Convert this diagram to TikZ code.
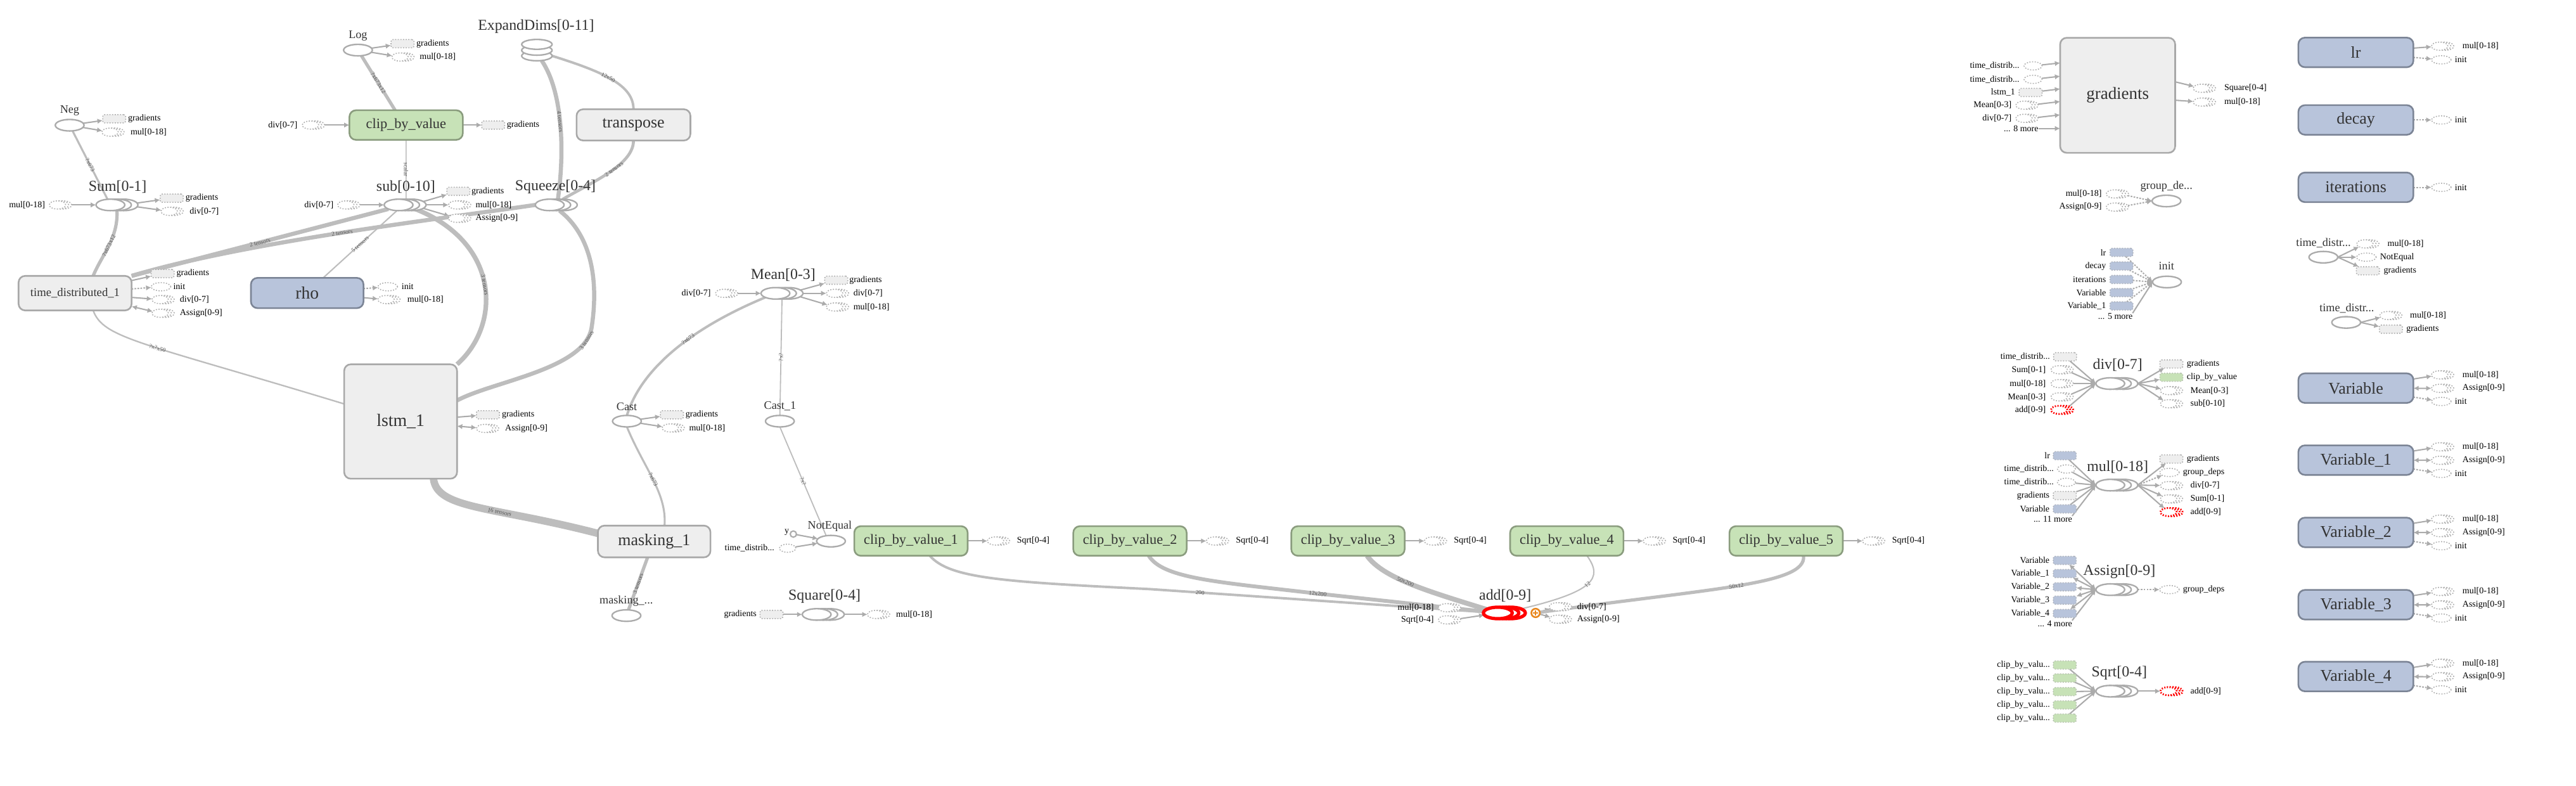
\documentclass[tikz,border=0pt]{standalone}
\usepackage{fontspec}
\setmainfont{Liberation Serif}
\usetikzlibrary{shapes.geometric,arrows.meta}
\definecolor{txtc}{HTML}{333333}
\definecolor{boxf}{HTML}{EEEEEE}
\definecolor{boxb}{HTML}{A8A8A8}
\definecolor{grnf}{HTML}{C7E2B7}
\definecolor{grnb}{HTML}{8A9C7E}
\definecolor{bluf}{HTML}{B8C4DB}
\definecolor{blub}{HTML}{7B8495}
\definecolor{edgec}{HTML}{BDBDBD}
\definecolor{arrc}{HTML}{ABABAB}
\definecolor{anc}{HTML}{B0B0B0}
\definecolor{opc}{HTML}{ABABAB}
\definecolor{redc}{HTML}{FF0000}
\definecolor{orgc}{HTML}{E8871E}
\definecolor{elc}{HTML}{555555}
\pgfdeclarelayer{bgw}
\pgfdeclarelayer{bg}
\pgfsetlayers{bgw,bg,main}
\tikzset{
 base/.style={inner sep=0pt,outer sep=0pt},
 box/.style={base,draw=boxb,fill=boxf,rounded corners=4pt,line width=1pt,minimum width=69pt,minimum height=18pt,text=txtc,font=\fontsize{10}{10}\selectfont},
 gbox/.style={box,draw=grnb,fill=grnf,font=\fontsize{8.6}{8.6}\selectfont},
 bbox/.style={box,draw=blub,fill=bluf},
 op/.style={base,ellipse,draw=opc,fill=white,line width=0.9pt,minimum width=17.5pt,minimum height=7pt},
 rop/.style={op,draw=redc,line width=2pt},
 aell/.style={base,ellipse,draw=anc,fill=white,line width=0.6pt,dash pattern=on 0.7pt off 0.9pt,minimum width=12pt,minimum height=5pt},
 raell/.style={aell,draw=redc,line width=1.1pt},
 arect/.style={base,rectangle,rounded corners=1.2pt,draw=anc,fill=boxf,line width=0.6pt,dash pattern=on 0.7pt off 0.9pt,minimum width=14pt,minimum height=5pt},
 brect/.style={arect,fill=bluf,draw=blub!60},
 grect/.style={arect,fill=grnf,draw=grnb!60},
 stxt/.style={base,text=black,font=\fontsize{5.4}{5.4}\selectfont},
 ltxt/.style={base,text=txtc,font=\fontsize{9.2}{9.2}\selectfont},
 mtxt/.style={base,text=txtc,font=\fontsize{7}{7}\selectfont},
 elab/.style={base,text=elc,font=\fontsize{3.6}{3.6}\selectfont,sloped},
 edg/.style={draw=edgec,line width=#1pt},
 edg/.default=1,
 arr/.style={draw=arrc,line width=0.8pt,-{Latex[length=3.2pt,width=3.2pt]}},
 darr/.style={arr,dash pattern=on 1pt off 0.8pt},
 barr/.style={draw=arrc,line width=0.8pt,{Latex[length=3.2pt,width=3.2pt]}-{Latex[length=3.2pt,width=3.2pt]}},
}
\newcommand\aser[4][aell]{%
 \node[#1,minimum width=10pt] (#2c) at ({#3+3.6},#4) {};
 \node[#1,minimum width=10pt] (#2b) at ({#3+1.8},#4) {};
 \node[#1,minimum width=10pt] (#2) at (#3,#4) {};}
\newcommand\series[4][op]{%
 \node[#1] (#2c) at ({#3+8},#4) {};
 \node[#1] (#2b) at ({#3+4},#4) {};
 \node[#1] (#2) at (#3,#4) {};}
\newcommand\txr[4]{\node[stxt,anchor=west] (#1) at (#2,#3) {#4};}
\newcommand\txl[4]{\node[stxt,anchor=east] (#1) at (#2,#3) {#4};}
\newcommand\varbox[3]{%
 \node[bbox,minimum width=70pt,minimum height=18pt] (#1) at (1434,#2) {#3};
 \aser{#1a}{1485}{#2-8.1}
 \txr{#1at}{1498.9}{#2-8.1}{mul[0-18]}
 \aser{#1b}{1485}{#2+0.1}
 \txr{#1bt}{1498.9}{#2+0.1}{Assign[0-9]}
 \node[aell] (#1i) at (1486,#2+8.1) {};
 \txr{#1it}{1494.3}{#2+8.1}{init}
 \begin{pgfonlayer}{bg}
 \draw[arr] (#1) -- (#1a);
 \draw[barr] (#1) -- (#1b);
 \draw[darr] (#1) -- (#1i);
 \end{pgfonlayer}}
\newcommand\cbvbox[3]{%
 \node[gbox] (#1) at (#2,329.2) {clip\_by\_value\_#3};
 \aser{#1o}{#2+51.5}{329.2}
 \txr{#1ot}{#2+64.5}{329.2}{Sqrt[0-4]}
 \begin{pgfonlayer}{bg}\draw[arr] (#1) -- (#1o);\end{pgfonlayer}}
\begin{document}
\begin{tikzpicture}[x=1pt,y=-1pt]
\begin{pgfonlayer}{bgw}
\fill[white] (0,0) rectangle (1568,478.3);
\end{pgfonlayer}
\path[use as bounding box] (0,0) rectangle (1568,478.3);

% ================= LEFT GRAPH =================
% Neg
\node[mtxt] (negL) at (42.4,67.5) {Neg};
\node[op] (neg) at (42.4,76.2) {};
\node[arect] (nego1) at (69.5,72.3) {};
\txr{nego1t}{78}{72.3}{gradients}
\aser{nego2}{67}{80.4}
\txr{nego2t}{79.5}{80.4}{mul[0-18]}
% Sum
\node[ltxt] (sumL) at (71.6,113.8) {Sum[0-1]};
\series{sum}{67.2}{124.7}
\txl{sumi1t}{27.4}{124.7}{mul[0-18]}
\aser{sumi1}{35}{124.7}
\node[arect] (sumo1) at (104.5,120.6) {};
\txr{sumo1t}{113}{120.6}{gradients}
\aser{sumo2}{103}{128.6}
\txr{sumo2t}{115.5}{128.6}{div[0-7]}
% time_distributed_1
\node[box,minimum width=68.8pt,minimum height=21pt,font=\fontsize{7.2}{7.2}\selectfont] (td1) at (45.7,178.4) {time\_distributed\_1};
\node[arect] (td1o1) at (99,166.5) {};
\txr{td1o1t}{107.5}{166.5}{gradients}
\node[aell] (td1o2) at (98,174.5) {};
\txr{td1o2t}{105.5}{174.5}{init}
\aser{td1o3}{97.5}{182.3}
\txr{td1o3t}{109.5}{182.3}{div[0-7]}
\aser{td1o4}{97.5}{190.6}
\txr{td1o4t}{109.5}{190.6}{Assign[0-9]}
% Log
\node[mtxt] (logL) at (217.9,21.9) {Log};
\node[op] (log) at (217.9,30.5) {};
\node[arect] (logo1) at (245,26.6) {};
\txr{logo1t}{253.5}{26.6}{gradients}
\aser{logo2}{243.5}{34.7}
\txr{logo2t}{255.5}{34.7}{mul[0-18]}
% clip_by_value
\node[gbox] (cbv) at (247.2,76.1) {clip\_by\_value};
\txl{cbvi1t}{181}{76.1}{div[0-7]}
\aser{cbvi1}{189}{76.1}
\node[arect] (cbvo1) at (300.2,76.1) {};
\txr{cbvo1t}{308.5}{76.1}{gradients}
% ExpandDims
\node[ltxt] (edL) at (326.3,16.1) {ExpandDims[0-11]};
\node[op,minimum width=18.5pt,minimum height=6pt] (ed3) at (326.8,34) {};
\node[op,minimum width=18.5pt,minimum height=6pt] (ed2) at (326.8,30.6) {};
\node[op,minimum width=18.5pt,minimum height=6pt] (ed) at (326.8,27) {};
% transpose
\node[box,minimum width=69.3pt,minimum height=19pt] (tr) at (385.6,76) {transpose};
% sub
\node[ltxt] (subL) at (247,113.8) {sub[0-10]};
\series{sub}{242.6}{124.7}
\txl{subi1t}{203}{124.7}{div[0-7]}
\aser{subi1}{210.5}{124.7}
\node[arect] (subo1) at (279,116.4) {};
\txr{subo1t}{287}{116.4}{gradients}
\aser{subo2}{278}{124.7}
\txr{subo2t}{289.5}{124.7}{mul[0-18]}
\aser{subo3}{278}{132.8}
\txr{subo3t}{289.5}{132.8}{Assign[0-9]}
% Squeeze
\node[ltxt] (sqL) at (338.1,113.8) {Squeeze[0-4]};
\series{sq}{334.6}{124.7}
% rho
\node[bbox,minimum width=68.5pt,minimum height=18.4pt,font=\fontsize{10.6}{10.6}\selectfont] (rho) at (187,178.3) {rho};
\node[aell] (rhoo1) at (236,174.5) {};
\txr{rhoo1t}{244.5}{174.5}{init}
\aser{rhoo2}{235}{182.3}
\txr{rhoo2t}{248}{182.3}{mul[0-18]}
% lstm_1
\node[box,minimum width=68.7pt,minimum height=69.6pt,font=\fontsize{10.7}{10.7}\selectfont] (lstm) at (243.85,256.5) {lstm\_1};
\node[arect] (lstmo1) at (297,252.4) {};
\txr{lstmo1t}{305.5}{252.4}{gradients}
\aser{lstmo2}{295}{260.7}
\txr{lstmo2t}{307.5}{260.7}{Assign[0-9]}
% masking_1
\node[box,minimum width=68.5pt,minimum height=19.3pt] (mask) at (398.2,329.5) {masking\_1};
\node[mtxt] (maskoL) at (381.2,365.7) {masking\_...};
\node[op] (masko) at (381.3,374.6) {};
% Mean
\node[ltxt] (meanL) at (476.7,167.3) {Mean[0-3]};
\series{mean}{472}{178.5}
\txl{meani1t}{432.6}{178.5}{div[0-7]}
\aser{meani1}{440.5}{178.5}
\node[arect] (meano1) at (509,170.5) {};
\txr{meano1t}{517}{170.5}{gradients}
\aser{meano2}{508}{178.5}
\txr{meano2t}{519.5}{178.5}{div[0-7]}
\aser{meano3}{508}{186.8}
\txr{meano3t}{519.5}{186.8}{mul[0-18]}
% Cast
\node[mtxt] (castL) at (381.5,247.5) {Cast};
\node[op] (cast) at (381.6,256.3) {};
\node[arect] (casto1) at (409,252.4) {};
\txr{casto1t}{417.3}{252.4}{gradients}
\aser{casto2}{408}{260.4}
\txr{casto2t}{419.5}{260.4}{mul[0-18]}
% Cast_1
\node[mtxt] (cast1L) at (474.8,247.1) {Cast\_1};
\node[op] (cast1) at (474.7,256.3) {};
% NotEqual
\node[mtxt] (neL) at (505.1,320.2) {NotEqual};
\node[op] (ne) at (505.8,329.3) {};
\node[base,circle,draw=opc,fill=white,line width=0.8pt,minimum size=3.8pt] (ney) at (482.9,325) {};
\txl{neyt}{480.3}{324}{y}
\txl{nei2t}{471.3}{333.6}{time\_distrib...}
\node[aell,minimum width=10pt] (nei2) at (479.4,333.6) {};
% clip_by_value_1..5
\cbvbox{cbva}{554.5}{1}
\cbvbox{cbvb}{687.8}{2}
\cbvbox{cbvc}{820.5}{3}
\cbvbox{cbvd}{953.7}{4}
\cbvbox{cbve}{1087.2}{5}
% Square
\node[ltxt] (sqrL) at (501.9,362.8) {Square[0-4]};
\series{sqr}{497.1}{373.9}
\node[arect] (sqri1) at (469.6,373.9) {};
\txl{sqri1t}{460.5}{373.9}{gradients}
\aser{sqro1}{533}{373.9}
\txr{sqro1t}{545.5}{373.9}{mul[0-18]}
% add
\node[ltxt] (addL) at (916.2,362.6) {add[0-9]};
\series[rop]{add}{911.7}{373}
\node[base,circle,draw=orgc,fill=white,line width=1pt,minimum size=5.2pt] (addx) at (934.7,373) {};
\draw[orgc,line width=0.8pt] ([xshift=-1.6pt]addx.center) -- ([xshift=1.6pt]addx.center) ([yshift=-1.6pt]addx.center) -- ([yshift=1.6pt]addx.center);
\txl{addi1t}{872.7}{369.8}{mul[0-18]}
\aser{addi1}{880.5}{369.8}
\txl{addi2t}{872.7}{377.2}{Sqrt[0-4]}
\aser{addi2}{880.5}{377.2}
\aser{addo1}{948}{369.2}
\txr{addo1t}{960}{369.2}{div[0-7]}
\aser{addo2}{948}{376.8}
\txr{addo2t}{960}{376.8}{Assign[0-9]}

% ---- left graph connectors ----
\begin{pgfonlayer}{bg}
\draw[arr] (neg) -- (nego1);
\draw[arr] (neg) -- (nego2);
\draw[arr] (sumi1c) -- (sum);
\draw[arr] (sumc) -- (sumo1);
\draw[arr] (sumc) -- (sumo2);
\draw[arr] (td1) -- (td1o1);
\draw[darr] (td1) -- (td1o2);
\draw[arr] (td1) -- (td1o3);
\draw[barr] (td1) -- (td1o4);
\draw[arr] (log) -- (logo1);
\draw[arr] (log) -- (logo2);
\draw[arr] (cbvi1c) -- (cbv);
\draw[arr] (cbv) -- (cbvo1);
\draw[arr] (subi1c) -- (sub);
\draw[arr] (subc) -- (subo1);
\draw[arr] (subc) -- (subo2);
\draw[arr] (subc) -- (subo3);
\draw[darr] (rho) -- (rhoo1);
\draw[arr] (rho) -- (rhoo2);
\draw[arr] (lstm) -- (lstmo1);
\draw[barr] (lstm) -- (lstmo2);
\draw[arr] (meani1c) -- (mean);
\draw[arr] (meanc) -- (meano1);
\draw[arr] (meanc) -- (meano2);
\draw[arr] (meanc) -- (meano3);
\draw[arr] (cast) -- (casto1);
\draw[arr] (cast) -- (casto2);
\draw[arr] (ney) -- (ne);
\draw[arr] (nei2) -- (ne);
\draw[arr] (sqri1) -- (sqr);
\draw[arr] (sqrc) -- (sqro1);
\draw[arr] (addi1c) -- (add);
\draw[arr] (addi2c) -- (add);
\draw[arr] (addx) -- (addo1);
\draw[arr] (addx) -- (addo2);

\draw[edg=1.2] (neg) -- (sum) node[elab,pos=0.5] {?x673};
\draw[edg=2] ([xshift=4pt]sum.south) .. controls (72,145) and (62,155) .. ([xshift=11pt]td1.north) node[elab,pos=0.5] {?x673x12};
\draw[edg=2] (log) -- ([xshift=-6.7pt]cbv.north) node[elab,pos=0.5] {?x673x12};
\draw[edg=1.5] (ed3.east) .. controls (368,44) and (385.6,52) .. (tr.north) node[elab,pos=0.45] {12x50};
\draw[edg=2.5] ([xshift=3pt]ed3.south) .. controls (342,55) and (344,90) .. ([xshift=5pt]sq.north) node[elab,pos=0.5] {4 tensors};
\draw[edg=1.8] (tr.south) .. controls (385.6,100) and (362,110) .. (sqc.north) node[elab,pos=0.45] {2 tensors};
\draw[edg=0.6] (cbv.south) -- ([xshift=4.6pt]sub.north) node[elab,pos=0.5] {scalar};
\draw[edg=2.5] (sq.west) .. controls (270,133) and (150,147) .. (td1.north east) node[elab,pos=0.5] {2 tensors};
\draw[edg=2.5] (sub.south west) -- (td1.north east) node[elab,pos=0.5] {2 tensors};
\draw[edg=0.8] ([xshift=-1pt]sub.south) -- ([xshift=9.7pt]rho.north) node[elab,pos=0.5] {5 tensors};
\draw[edg=2.8] (subb.south east) .. controls (305,148) and (305,198) .. (lstm.north east) node[elab,pos=0.5] {3 tensors};
\draw[edg=2.5] ([xshift=2pt]sqb.south) .. controls (362,145) and (364,175) .. (360,200) .. controls (355,225) and (300,232) .. ([yshift=12.8pt]lstm.east) node[elab,pos=0.1] {3 tensors};
\draw[edg=0.9] ([xshift=11pt]td1.south) .. controls (63,206) and (85,208) .. ([yshift=10.7pt]lstm.west) node[elab,pos=0.55] {?x?x50};
\draw[edg=4.5] ([xshift=20pt]lstm.south) .. controls (266,310) and (300,308) .. ([yshift=4.9pt]mask.west) node[elab,pos=0.62] {16 tensors};
\draw[edg=2] ([xshift=-4pt]mask.south) -- (masko) node[elab,pos=0.5] {3 tensors};
\draw[edg=1.5] (mean.south west) .. controls (420,200) and (390,225) .. (cast.north) node[elab,pos=0.4] {?x673};
\draw[edg=1.2] (cast.south) .. controls (392,285) and (406,300) .. ([xshift=6.3pt]mask.north) node[elab,pos=0.5] {?x673};
\draw[edg=0.7] ([xshift=4pt]mean.south) -- (cast1.north) node[elab,pos=0.5] {?x?};
\draw[edg=0.7] (cast1.south) -- ([xshift=-3pt]ne.north) node[elab,pos=0.5] {?x?};
\draw[edg=1.5] ([xshift=11.5pt]cbva.south) .. controls (578,352) and (610,354) .. (700,358.5) -- (add) node[elab,pos=0.15] {200};
\draw[edg=2.3] ([xshift=11.4pt]cbvb.south) .. controls (708,352) and (740,354) .. (800,361) -- (add) node[elab,pos=0.02] {12x200};
\draw[edg=3] ([xshift=11.6pt]cbvc.south) .. controls (842,352) and (870,360) .. (add) node[elab,pos=0.45] {50x200};
\draw[edg=0.8] ([xshift=12.3pt]cbvd.south) .. controls (976,352) and (970,360) .. (addc.north east) node[elab,pos=0.5] {12};
\draw[edg=2] ([xshift=10.6pt]cbve.south) .. controls (1100,356) and (1040,358) .. (addx) node[elab,pos=0.5] {50x12};
\end{pgfonlayer}

% ================= RIGHT PANEL =================
% gradients
\node[box,minimum width=70pt,minimum height=70pt,font=\fontsize{10.4}{10.4}\selectfont] (gr) at (1289,58) {gradients};
\txl{gri1t}{1229.2}{40.1}{time\_distrib...}
\node[aell,minimum width=11pt] (gri1) at (1237.5,40.1) {};
\txl{gri2t}{1229.2}{48.3}{time\_distrib...}
\node[aell,minimum width=11pt] (gri2) at (1237.5,48.3) {};
\txl{gri3t}{1226.6}{56.3}{lstm\_1}
\node[arect] (gri3) at (1236,56.3) {};
\txl{gri4t}{1224.4}{64}{Mean[0-3]}
\aser{gri4}{1232}{64}
\txl{gri5t}{1224.4}{72}{div[0-7]}
\aser{gri5}{1232}{72}
\txl{gri6}{1240.7}{78.2}{... 8 more}
\aser{gro1}{1340}{53.7}
\txr{gro1t}{1353.9}{53.7}{Square[0-4]}
\aser{gro2}{1340}{62.1}
\txr{gro2t}{1353.9}{62.1}{mul[0-18]}
% group_deps
\node[mtxt] (gdL) at (1318.7,113.3) {group\_de...};
\node[op] (gd) at (1318.7,122.3) {};
\txl{gdi1t}{1279.3}{118}{mul[0-18]}
\aser{gdi1}{1287}{118}
\txl{gdi2t}{1279.3}{126}{Assign[0-9]}
\aser{gdi2}{1287}{126}
% init
\node[mtxt] (initL) at (1318.7,162) {init};
\node[op] (init) at (1319,171.6) {};
\txl{ini1t}{1281.9}{153.6}{lr}
\node[brect] (ini1) at (1291.3,153.6) {};
\txl{ini2t}{1281.9}{161.9}{decay}
\node[brect] (ini2) at (1291.3,161.9) {};
\txl{ini3t}{1281.9}{170.1}{iterations}
\node[brect] (ini3) at (1291.3,170.1) {};
\txl{ini4t}{1281.9}{178.1}{Variable}
\node[brect] (ini4) at (1291.3,178.1) {};
\txl{ini5t}{1281.9}{186.2}{Variable\_1}
\node[brect] (ini5) at (1291.3,186.2) {};
\node[stxt] (ini6) at (1287.6,192.4) {... 5 more};
% div
\node[ltxt] (dvL) at (1289,222) {div[0-7]};
\series{dv}{1284.5}{233.4}
\txl{dvi1t}{1247.8}{217.1}{time\_distrib...}
\node[arect] (dvi1) at (1257,217.1) {};
\txl{dvi2t}{1245.2}{225}{Sum[0-1]}
\aser{dvi2}{1253.4}{225}
\txl{dvi3t}{1245.2}{233.4}{mul[0-18]}
\aser{dvi3}{1253.4}{233.4}
\txl{dvi4t}{1245.2}{241.5}{Mean[0-3]}
\aser{dvi4}{1253.4}{241.5}
\txl{dvi5t}{1245.2}{249.4}{add[0-9]}
\aser[raell]{dvi5}{1253.4}{249.4}
\node[arect] (dvo1) at (1321.7,221.5) {};
\txr{dvo1t}{1331.1}{221.5}{gradients}
\node[grect] (dvo2) at (1321.7,229.6) {};
\txr{dvo2t}{1331.1}{229.6}{clip\_by\_value}
\aser{dvo3}{1320}{237.7}
\txr{dvo3t}{1333.3}{237.7}{Mean[0-3]}
\aser{dvo4}{1320}{245.7}
\txr{dvo4t}{1333.3}{245.7}{sub[0-10]}
% mul
\node[ltxt] (mlL) at (1289,284.2) {mul[0-18]};
\series{ml}{1284.5}{295.2}
\txl{mli1t}{1247.8}{277.3}{lr}
\node[brect] (mli1) at (1256.8,277.3) {};
\txl{mli2t}{1250.1}{285.4}{time\_distrib...}
\node[aell,minimum width=11pt] (mli2) at (1257.8,285.4) {};
\txl{mli3t}{1250.1}{293.5}{time\_distrib...}
\node[aell,minimum width=11pt] (mli3) at (1257.8,293.5) {};
\txl{mli4t}{1247.5}{301.6}{gradients}
\node[arect] (mli4) at (1256.8,301.6) {};
\txl{mli5t}{1247.5}{309.7}{Variable}
\node[brect] (mli5) at (1256.8,309.7) {};
\txl{mli6}{1261.3}{315.8}{... 11 more}
\node[arect] (mlo1) at (1321.7,279.3) {};
\txr{mlo1t}{1331.1}{279.3}{gradients}
\node[aell] (mlo2) at (1320.5,287.5) {};
\txr{mlo2t}{1328.8}{287.5}{group\_deps}
\aser{mlo3}{1320}{295.5}
\txr{mlo3t}{1333.3}{295.5}{div[0-7]}
\aser{mlo4}{1320}{303.6}
\txr{mlo4t}{1333.3}{303.6}{Sum[0-1]}
\aser[raell]{mlo5}{1320}{311.6}
\txr{mlo5t}{1333.3}{311.6}{add[0-9]}
% Assign
\node[ltxt] (asL) at (1290,347.8) {Assign[0-9]};
\series{as}{1284.5}{358.8}
\txl{asi1t}{1247.5}{341}{Variable}
\node[brect] (asi1) at (1256.8,341) {};
\txl{asi2t}{1247.5}{349}{Variable\_1}
\node[brect] (asi2) at (1256.8,349) {};
\txl{asi3t}{1247.5}{357.1}{Variable\_2}
\node[brect] (asi3) at (1256.8,357.1) {};
\txl{asi4t}{1247.5}{365.2}{Variable\_3}
\node[brect] (asi4) at (1256.8,365.2) {};
\txl{asi5t}{1247.5}{373.3}{Variable\_4}
\node[brect] (asi5) at (1256.8,373.3) {};
\txl{asi6}{1261.3}{379.4}{... 4 more}
\node[aell] (aso1) at (1320.5,358.8) {};
\txr{aso1t}{1328.8}{358.8}{group\_deps}
% Sqrt
\node[ltxt] (sqtL) at (1290,409.6) {Sqrt[0-4]};
\series{sqt}{1284.5}{420.6}
\txl{sqti1t}{1247.8}{404.7}{clip\_by\_valu...}
\node[grect] (sqti1) at (1256.8,404.7) {};
\txl{sqti2t}{1247.8}{412.6}{clip\_by\_valu...}
\node[grect] (sqti2) at (1256.8,412.6) {};
\txl{sqti3t}{1247.8}{420.9}{clip\_by\_valu...}
\node[grect] (sqti3) at (1256.8,420.9) {};
\txl{sqti4t}{1247.8}{429}{clip\_by\_valu...}
\node[grect] (sqti4) at (1256.8,429) {};
\txl{sqti5t}{1247.8}{437}{clip\_by\_valu...}
\node[grect] (sqti5) at (1256.8,437) {};
\aser[raell]{sqto1}{1320}{420.6}
\txr{sqto1t}{1333.3}{420.6}{add[0-9]}
% lr, decay, iterations
\node[bbox,minimum width=70pt,minimum height=18pt] (lr) at (1434,31.9) {lr};
\aser{lro1}{1485}{28.1}
\txr{lro1t}{1498.9}{28.1}{mul[0-18]}
\node[aell] (lro2) at (1486,36.4) {};
\txr{lro2t}{1494.3}{36.4}{init}
\node[bbox,minimum width=70pt,minimum height=18pt] (dec) at (1434,73) {decay};
\node[aell] (deco1) at (1486,73) {};
\txr{deco1t}{1494.3}{73}{init}
\node[bbox,minimum width=70pt,minimum height=18pt] (itr) at (1434,114) {iterations};
\node[aell] (itro1) at (1486,114) {};
\txr{itro1t}{1494.3}{114}{init}
% time_distr... (a)
\node[mtxt] (taL) at (1414.3,148) {time\_distr...};
\node[op] (ta) at (1414.2,156.5) {};
\aser{tao1}{1439.5}{148.4}
\txr{tao1t}{1453.3}{148.4}{mul[0-18]}
\node[aell] (tao2) at (1440.4,156.5) {};
\txr{tao2t}{1448.7}{156.5}{NotEqual}
\node[arect] (tao3) at (1441.3,164.8) {};
\txr{tao3t}{1451}{164.8}{gradients}
% time_distr... (b)
\node[mtxt] (tbL) at (1428.5,187.6) {time\_distr...};
\node[op] (tb) at (1428.1,196.2) {};
\aser{tbo1}{1453.5}{192}
\txr{tbo1t}{1467}{192}{mul[0-18]}
\node[arect] (tbo2) at (1455.3,200.3) {};
\txr{tbo2t}{1464.7}{200.3}{gradients}
% Variables
\varbox{va}{236.2}{Variable}
\varbox{vb}{280}{Variable\_1}
\varbox{vc}{324}{Variable\_2}
\varbox{vd}{368}{Variable\_3}
\varbox{ve}{411.7}{Variable\_4}

% ---- right panel connectors ----
\begin{pgfonlayer}{bg}
\draw[arr] (gri1) -- ([yshift=19.7pt]gr.west);
\draw[arr] (gri2) -- ([yshift=11.6pt]gr.west);
\draw[arr] (gri3) -- ([yshift=3.9pt]gr.west);
\draw[arr] (gri4c) -- ([yshift=-3.8pt]gr.west);
\draw[arr] (gri5c) -- ([yshift=-11.9pt]gr.west);
\draw[arr] (gri6) -- ([yshift=-20.2pt]gr.west);
\draw[arr] ([yshift=8.2pt]gr.east) -- (gro1);
\draw[arr] ([yshift=-3pt]gr.east) -- (gro2);
\draw[darr] (gdi1c) -- (gd.west);
\draw[darr] (gdi2c) -- (gd.west);
\draw[darr] (ini1) -- (init.west);
\draw[darr] (ini2) -- (init.west);
\draw[darr] (ini3) -- (init.west);
\draw[darr] (ini4) -- (init.west);
\draw[darr] (ini5) -- (init.west);
\draw[arr] (ini6.north east) -- (init.west);
\draw[arr] (dvi1) -- (dv.west);
\draw[arr] (dvi2c) -- (dv.west);
\draw[arr] (dvi3c) -- (dv.west);
\draw[arr] (dvi4c) -- (dv.west);
\draw[arr] (dvi5c) -- (dv.west);
\draw[arr] (dvc.east) -- (dvo1);
\draw[arr] (dvc.east) -- (dvo2);
\draw[arr] (dvc.east) -- (dvo3);
\draw[arr] (dvc.east) -- (dvo4);
\draw[arr] (mli1) -- (ml.west);
\draw[arr] (mli2) -- (ml.west);
\draw[arr] (mli3) -- (ml.west);
\draw[arr] (mli4) -- (ml.west);
\draw[arr] (mli5) -- (ml.west);
\draw[arr] (mli6.north east) -- (ml.west);
\draw[arr] (mlc.east) -- (mlo1);
\draw[darr] (mlc.east) -- (mlo2);
\draw[arr] (mlc.east) -- (mlo3);
\draw[arr] (mlc.east) -- (mlo4);
\draw[arr] (mlc.east) -- (mlo5);
\draw[barr] (asi1) -- (as.west);
\draw[barr] (asi2) -- (as.west);
\draw[barr] (asi3) -- (as.west);
\draw[barr] (asi4) -- (as.west);
\draw[barr] (asi5) -- (as.west);
\draw[arr] (asi6.north east) -- (as.west);
\draw[darr] (asc.east) -- (aso1);
\draw[arr] (sqti1) -- (sqt.west);
\draw[arr] (sqti2) -- (sqt.west);
\draw[arr] (sqti3) -- (sqt.west);
\draw[arr] (sqti4) -- (sqt.west);
\draw[arr] (sqti5) -- (sqt.west);
\draw[arr] (sqtc.east) -- (sqto1);
\draw[arr] (lr) -- (lro1);
\draw[darr] (lr) -- (lro2);
\draw[darr] (dec) -- (deco1);
\draw[darr] (itr) -- (itro1);
\draw[arr] (ta.east) -- (tao1);
\draw[arr] (ta.east) -- (tao2);
\draw[arr] (ta.east) -- (tao3);
\draw[arr] (tb.east) -- (tbo1);
\draw[arr] (tb.east) -- (tbo2);
\end{pgfonlayer}
\end{tikzpicture}
\end{document}
